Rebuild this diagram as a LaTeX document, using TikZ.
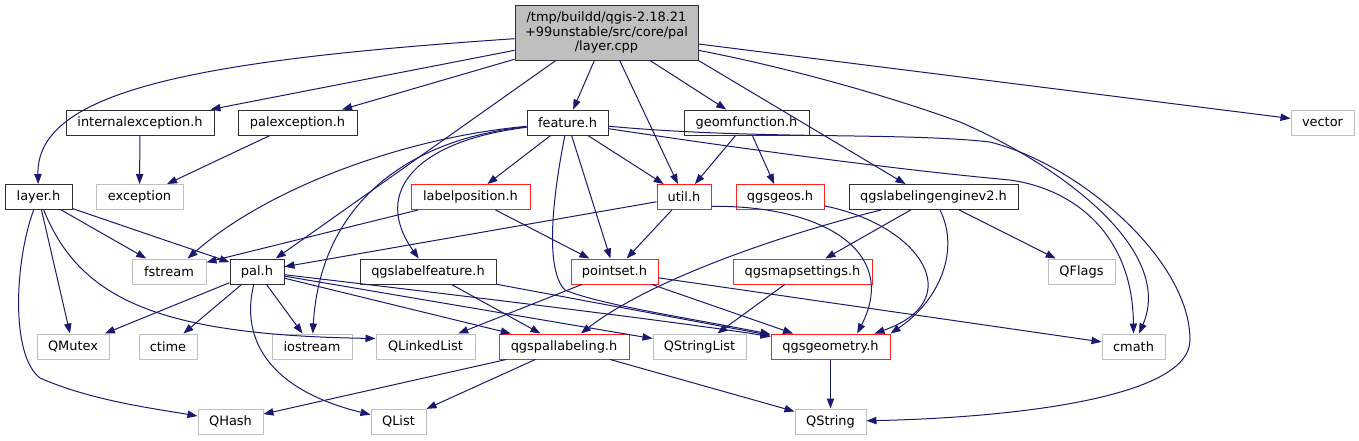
\documentclass[tikz,border=0pt]{standalone}
\usepackage{fontspec}
\setmainfont{DejaVu Sans}
\usetikzlibrary{arrows.meta}
\definecolor{edgec}{HTML}{191970}
\definecolor{greyb}{HTML}{BFBFBF}
\definecolor{redb}{HTML}{FF2020}
\definecolor{blackb}{HTML}{303030}
\begin{document}
\begin{tikzpicture}[x=0.75pt,y=-0.75pt,
  every node/.style={font=\fontsize{9.7}{10.9}\selectfont},
  nd/.style={draw, line width=0.75pt, inner sep=0pt, minimum height=18.75pt, align=center, text=black},
  blacknode/.style={nd, draw=blackb},
  rednode/.style={nd, draw=redb},
  greynode/.style={nd, draw=greyb},
  conn/.style={draw=edgec, line width=0.75pt, -{Triangle[length=7.5pt,width=5.5pt]}}]
\useasboundingbox (0,0) rectangle (1359,440);
% nodes
\node[blacknode, fill=greyb, minimum width=137.25pt, minimum height=41.25pt] (root) at (606.5,32.5) {/tmp/buildd/qgis-2.18.21\\+99unstable/src/core/pal\\/layer.cpp};
\node[blacknode, minimum width=111pt] (intexc) at (140,122.5) {internalexception.h};
\node[blacknode, minimum width=89.25pt] (palexc) at (297.5,122.5) {palexception.h};
\node[blacknode, minimum width=60.75pt] (feature) at (567.5,122.5) {feature.h};
\node[blacknode, minimum width=93.75pt] (geomf) at (746.5,122.5) {geomfunction.h};
\node[greynode, minimum width=47.25pt] (vector) at (1322.5,122.5) {vector};
\node[blacknode, minimum width=50.25pt] (layer) at (38.5,197) {layer.h};
\node[greynode, minimum width=65.25pt] (exc) at (139.5,197) {exception};
\node[rednode, minimum width=89.25pt] (labelpos) at (470.5,197) {labelposition.h};
\node[rednode, minimum width=40.5pt] (util) at (684,197) {util.h};
\node[rednode, minimum width=66pt] (geos) at (780,197) {qgsgeos.h};
\node[blacknode, minimum width=126.75pt] (qle) at (933.5,197) {qgslabelingenginev2.h};
\node[greynode, minimum width=55.5pt] (fstream) at (169,271.5) {fstream};
\node[blacknode, minimum width=40.5pt] (pal) at (257,271.5) {pal.h};
\node[blacknode, minimum width=102pt] (qlf) at (428,271.5) {qgslabelfeature.h};
\node[rednode, minimum width=65.25pt] (pointset) at (614.5,271.5) {pointset.h};
\node[rednode, minimum width=104.25pt] (qms) at (802.5,271.5) {qgsmapsettings.h};
\node[greynode, minimum width=50.25pt] (qflags) at (1081.5,271.5) {QFlags};
\node[greynode, minimum width=54pt] (qmutex) at (73,346.5) {QMutex};
\node[greynode, minimum width=43.5pt] (ctime) at (168,346.5) {ctime};
\node[greynode, minimum width=60pt] (iostream) at (312,346.5) {iostream};
\node[greynode, minimum width=74.25pt] (qll) at (425.5,346.5) {QLinkedList};
\node[rednode, minimum width=97.5pt] (qpal) at (564,346.5) {qgspallabeling.h};
\node[greynode, minimum width=69.75pt] (qsl) at (699.5,346.5) {QStringList};
\node[rednode, minimum width=89.25pt] (qgeom) at (830.5,346.5) {qgsgeometry.h};
\node[greynode, minimum width=47.25pt] (cmath) at (1133.5,346.5) {cmath};
\node[greynode, minimum width=48.75pt] (qhash) at (230.5,421.5) {QHash};
\node[greynode, minimum width=41.25pt] (qlist) at (398.5,421.5) {QList};
\node[greynode, minimum width=53.25pt] (qstring) at (830.5,421.5) {QString};
% edges from root
\draw[conn] (root) .. controls (200,60) and (36,90) .. (layer);
\draw[conn] (root) -- ([xshift=-3pt]intexc.north east);
\draw[conn] (root) -- (palexc);
\draw[conn] ([xshift=-38pt]root.south) -- ([xshift=14pt]pal.north);
\draw[conn] (root) -- (feature);
\draw[conn] (root) -- (util);
\draw[conn] (root) -- (geomf);
\draw[conn] (root.south east) -- ([xshift=-21pt]qle.north);
\draw[conn] (root) -- (vector);
\draw[conn] (root) .. controls (800,70) and (900,100) .. (960,122) .. controls (1060,165) and (1175,250) .. (cmath);
% exceptions
\draw[conn] (intexc) -- (exc);
\draw[conn] (palexc) -- (exc);
% geomfunction
\draw[conn] (geomf) -- (util);
\draw[conn] (geomf) -- (geos);
% feature
\draw[conn] (feature) -- (labelpos);
\draw[conn] (feature) -- (util);
\draw[conn] (feature) -- (pointset);
\draw[conn] (feature) .. controls (552,200) and (545,270) .. (565,290) .. controls (600,305) and (700,320) .. (qgeom);
\draw[conn] (feature) .. controls (400,138) and (265,190) .. ([xshift=14pt]fstream.north);
\draw[conn] (feature) .. controls (400,140) and (320,210) .. (iostream);
\draw[conn] (feature) .. controls (420,140) and (370,190) .. (qlf);
\draw[conn] (feature) .. controls (760,140) and (900,132) .. (990,142) .. controls (1080,165) and (1190,260) .. (1190,340) .. controls (1190,400) and (1000,418) .. (qstring);
\draw[conn] (feature) .. controls (750,150) and (900,170) .. (1010,180) .. controls (1080,190) and (1133,240) .. (cmath);
% labelposition
\draw[conn] (labelpos) -- (fstream);
\draw[conn] (labelpos) -- (pointset);
% util
\draw[conn] (util) -- (pal);
\draw[conn] (util) -- (pointset);
\draw[conn] ([yshift=-7pt]util.east) .. controls (820,205) and (900,250) .. ([xshift=20pt]qgeom.north);
% pointset
\draw[conn] (pointset) -- (qll);
\draw[conn] (pointset) -- (qgeom);
\draw[conn] (pointset) -- (cmath);
% qgslabelfeature
\draw[conn] (qlf) -- (qpal);
\draw[conn] (qlf) -- (qgeom);
% pal
\draw[conn] (pal) -- (qmutex);
\draw[conn] (pal) -- (ctime);
\draw[conn] (pal) -- (iostream);
\draw[conn] (pal) .. controls (240,340) and (270,390) .. (qlist);
\draw[conn] (pal) -- (qpal);
\draw[conn] (pal) -- (qsl);
\draw[conn] (pal) .. controls (500,300) and (700,325) .. (qgeom);
% layer
\draw[conn] (layer) -- (fstream);
\draw[conn] (layer) -- (pal);
\draw[conn] (layer) -- (qmutex);
\draw[conn] (layer) .. controls (80,300) and (160,335) .. ([yshift=6pt]qll.west);
\draw[conn] (layer) .. controls (15,260) and (10,355) .. (40,378) .. controls (90,400) and (150,408) .. (qhash);
% qgslabelingenginev2
\draw[conn] (qle) .. controls (780,235) and (650,280) .. (qpal);
\draw[conn] (qle) -- (qms);
\draw[conn] (qle) -- (qflags);
\draw[conn] (qle) .. controls (960,250) and (940,300) .. (qgeom.north east);
% qgsgeos
\draw[conn] (geos) .. controls (920,225) and (970,300) .. ([xshift=33pt]qgeom.north);
% qgsmapsettings
\draw[conn] (qms) -- (qsl);
% qgspallabeling
\draw[conn] (qpal) -- (qhash);
\draw[conn] (qpal) -- (qlist);
\draw[conn] (qpal) -- (qstring);
% qgsgeometry
\draw[conn] (qgeom) -- (qstring);
\end{tikzpicture}
\end{document}
